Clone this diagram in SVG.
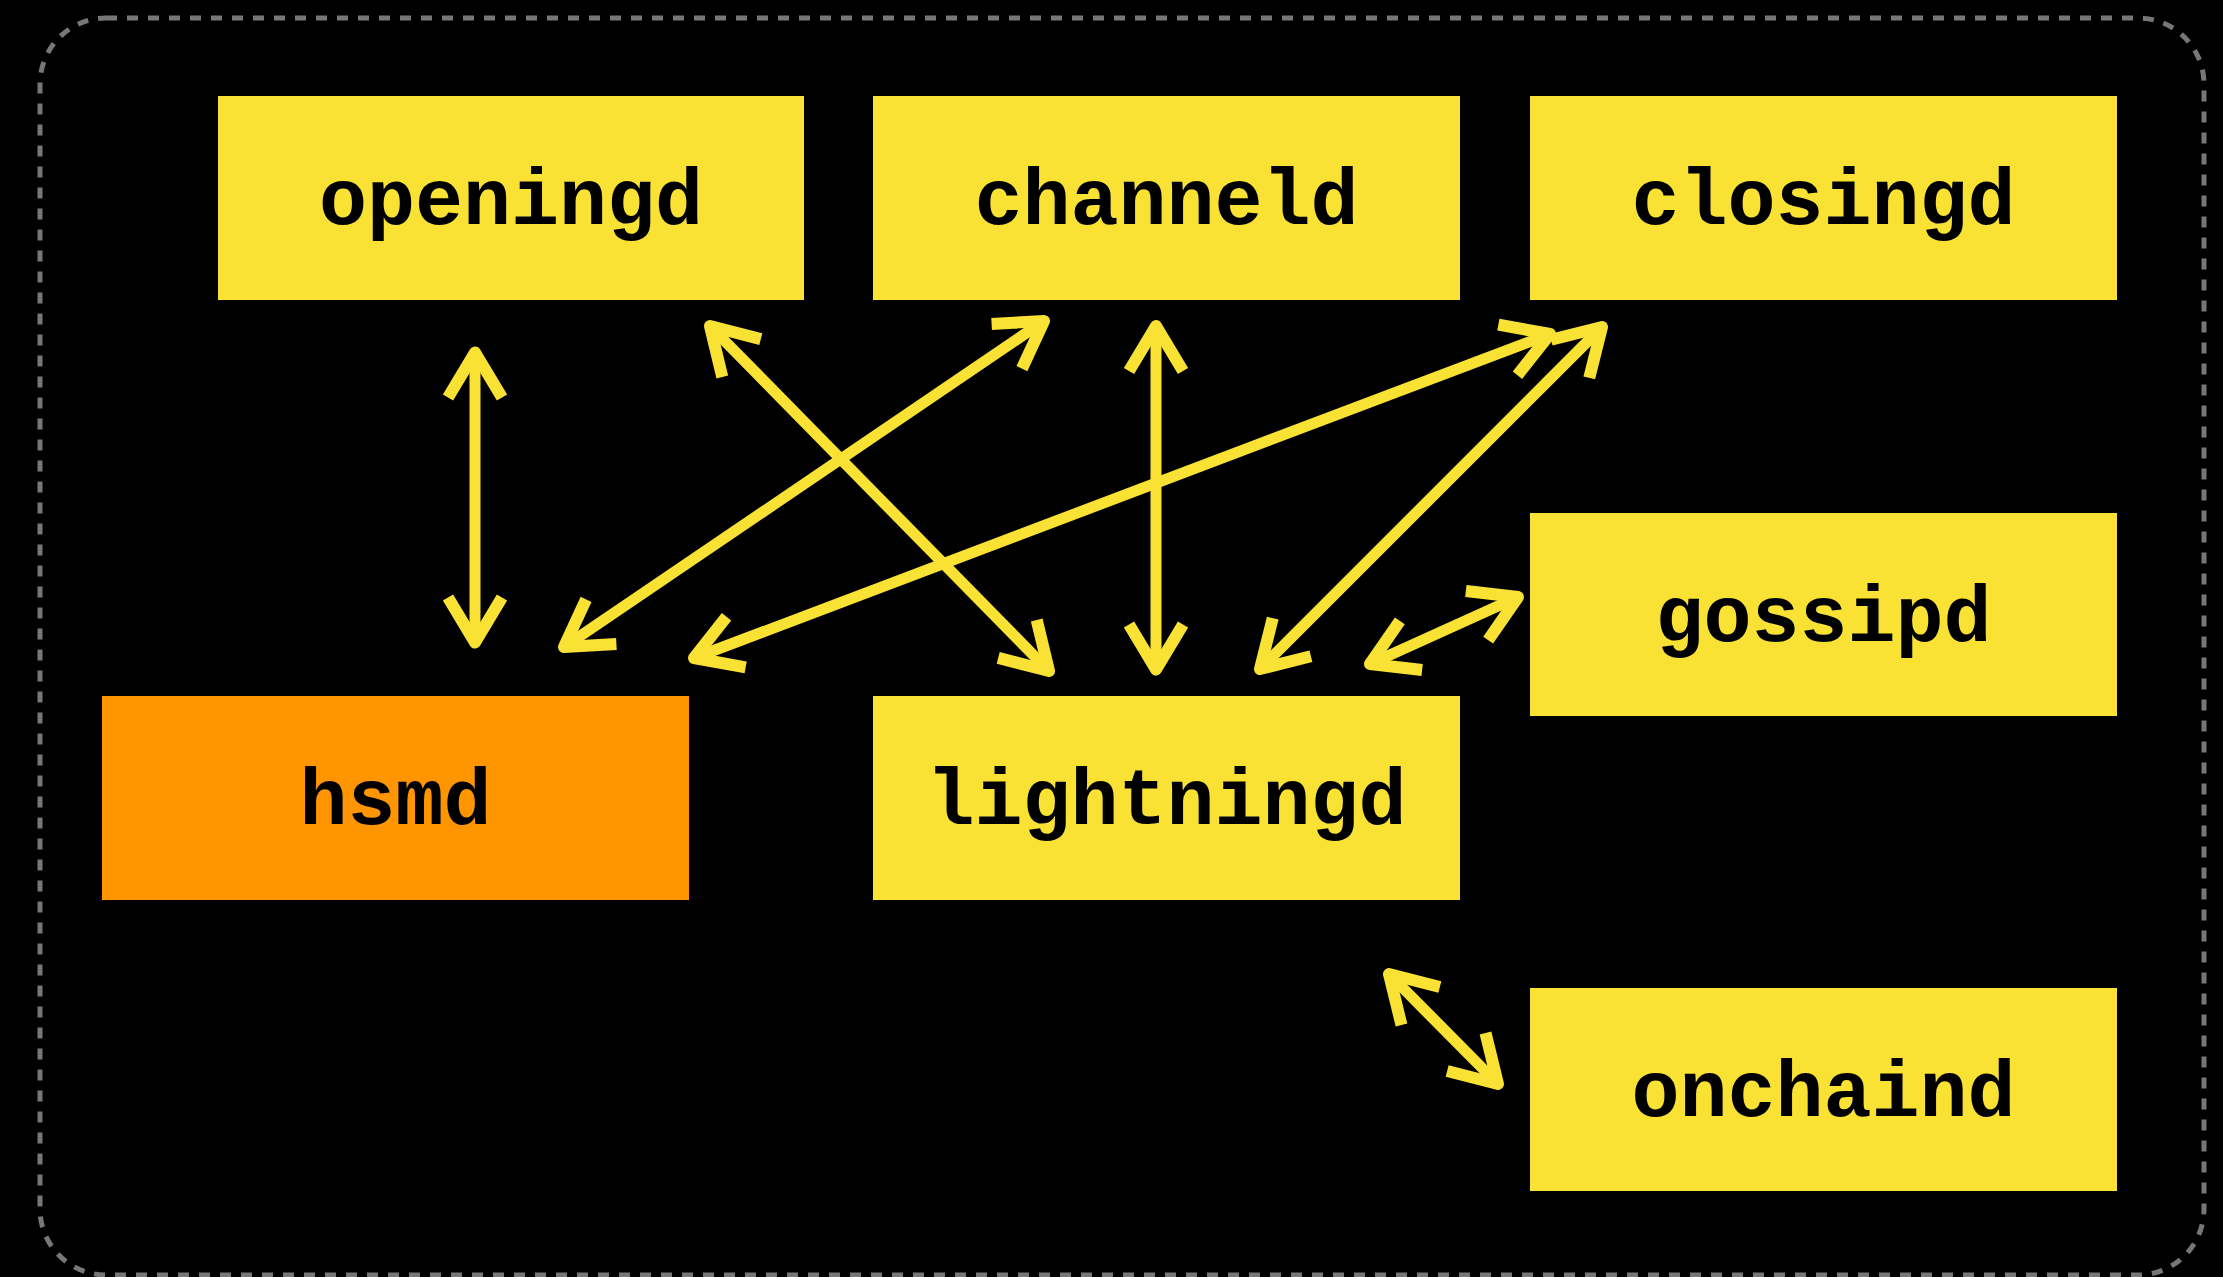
<svg xmlns="http://www.w3.org/2000/svg" width="2223" height="1277" viewBox="0 0 2223 1277">
  <style>
    .frame { fill: none; stroke: #777777; stroke-width: 5; stroke-dasharray: 11 10; }
    .node { fill: #f9e233; }
    .node.hsm { fill: #ff9500; }
    .label { font-family: "Liberation Mono", "DejaVu Sans Mono", monospace; font-weight: bold; font-size: 80px; fill: #000; text-anchor: middle; }
    .link { fill: none; stroke: #f9e233; stroke-width: 11; marker-start: url(#head); marker-end: url(#head); }
  </style>
  <defs>
    <!-- open chevron arrowhead, used on both ends of every link -->
    <marker id="head" markerUnits="userSpaceOnUse" orient="auto-start-reverse" refX="0" refY="0" markerWidth="120" markerHeight="120" overflow="visible">
      <path d="M -45,-27 L 0,0 L -45,27" fill="none" stroke="#f9e233" stroke-width="12" stroke-linejoin="round" stroke-linecap="butt"/>
    </marker>
  </defs>

  <rect width="2223" height="1277" fill="#000"/>
  <rect class="frame" x="40" y="18" width="2164" height="1257" rx="66" ry="66"/>

  <g id="connectors">
    <path id="openingd-hsmd" class="link" d="M 475,352.5 L 475,642.5"/>
    <path id="openingd-lightningd" class="link" d="M 710,326 L 1049,671"/>
    <path id="channeld-hsmd" class="link" d="M 1044,321 L 564,647"/>
    <path id="channeld-lightningd" class="link" d="M 1156,326 L 1156,669.5"/>
    <path id="closingd-hsmd" class="link" d="M 1550,334 L 694,658"/>
    <path id="closingd-lightningd" class="link" d="M 1602,327 L 1260,669"/>
    <path id="lightningd-gossipd" class="link" d="M 1370,664 L 1518,597"/>
    <path id="lightningd-onchaind" class="link" d="M 1389,974 L 1498,1084"/>
  </g>

  <g id="openingd">
    <rect class="node" x="218" y="96" width="586" height="204"/>
    <text class="label" x="511" y="224">openingd</text>
  </g>
  <g id="channeld">
    <rect class="node" x="873" y="96" width="587" height="204"/>
    <text class="label" x="1166.5" y="224">channeld</text>
  </g>
  <g id="closingd">
    <rect class="node" x="1530" y="96" width="587" height="204"/>
    <text class="label" x="1823.5" y="224">closingd</text>
  </g>
  <g id="gossipd">
    <rect class="node" x="1530" y="513" width="587" height="203"/>
    <text class="label" x="1823.5" y="641">gossipd</text>
  </g>
  <g id="hsmd">
    <rect class="node hsm" x="102" y="696" width="587" height="204"/>
    <text class="label" x="395.5" y="824">hsmd</text>
  </g>
  <g id="lightningd">
    <rect class="node" x="873" y="696" width="587" height="204"/>
    <text class="label" x="1166.5" y="824">lightningd</text>
  </g>
  <g id="onchaind">
    <rect class="node" x="1530" y="988" width="587" height="203"/>
    <text class="label" x="1823.5" y="1116">onchaind</text>
  </g>
</svg>
